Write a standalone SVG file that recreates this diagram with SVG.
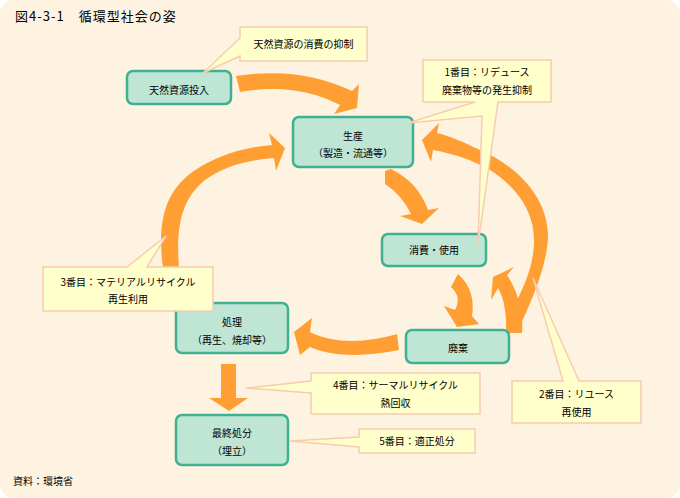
<svg xmlns="http://www.w3.org/2000/svg" width="680" height="498" viewBox="0 0 680 498">
<style>
.bg{fill:#FEF3E1}
.arr{fill:#FF9F33}
.node{fill:#BFE5D5;stroke:#40B093;stroke-width:2.5}
.call{fill:#FFFFCC;stroke:#F8CCB0;stroke-width:1.5;stroke-linejoin:miter}
text{font-family:"Noto Sans CJK JP","Noto Sans CJK SC",sans-serif;font-size:10px;fill:#000}
.c{text-anchor:middle}
.title{font-size:13px;letter-spacing:1px}
</style>
<rect width="680" height="498" fill="#FFFFFF"/>
<rect class="bg" x="0" y="0" width="680" height="498" rx="14"/>
<text class="title" x="15" y="21">図4-3-1　循環型社会の姿</text>
<text x="13" y="485">資料：環境省</text>
<g id="connectors">
<path class="arr" d="M236,76 Q300,66 352,91 L359,84 L357,108 L334,114 L340,105 Q296,82 240,92 Z"/>
<path class="arr" d="M385,171 L391,169 Q418,182 428,210 L439,208 L422,224 L400,216 L411,214 Q402,195 385,184 Z"/>
<path class="arr" d="M458,274 Q476,290 472,316 L479,324 L457,327 L444,306 L455,310 Q462,297 451,287 Z"/>
<path class="arr" d="M517,332 C530,305 548,265 548,235 C547,195 515,165 480,150 C465,143 450,136 437,133 L439,123 L422,140 L431,162 L433,150 C455,154 472,160 490,170 C518,188 534,212 534,240 C534,265 525,285 512,310 L508,332 Z"/>
<path class="arr" d="M506,333 C507,315 504,298 498,288 L491,300 L493,277 L514,267 L507,275 C516,288 524,310 522,333 Z"/>
<path class="arr" d="M397,334 C370,342 335,345 310,332 L312,318 L294,332 L300,355 L310,347 C335,358 370,356 399,350 Z"/>
<path class="arr" d="M163,268 C158,230 160,190 200,167 C225,152 250,147 272,145 L269,133 L285,148 L276,171 L274,158 C250,160 225,165 205,180 C180,200 176,230 179,268 Z"/>
<path class="arr" d="M221,364 L236,364 L236,398 L248,398 L229,411 L209,398 L221,398 Z"/>
</g>
<g id="n-input">
<rect class="node" x="127" y="71" width="104" height="33" rx="6"/>
<text class="c" x="179" y="93.5">天然資源投入</text>
</g>
<g id="n-production">
<rect class="node" x="293" y="117" width="120" height="50" rx="6"/>
<text class="c" x="353" y="139.5">生産</text>
<text class="c" x="353" y="156.5">（製造・流通等）</text>
</g>
<g id="n-consumption">
<rect class="node" x="382" y="234" width="104" height="32" rx="6"/>
<text class="c" x="434" y="253.5">消費・使用</text>
</g>
<g id="n-disposal">
<rect class="node" x="406" y="330" width="103" height="33" rx="6"/>
<text class="c" x="458" y="351.5">廃棄</text>
</g>
<g id="n-treatment">
<rect class="node" x="176" y="303" width="112" height="50" rx="6"/>
<text class="c" x="232" y="325.5">処理</text>
<text class="c" x="232" y="343.5">（再生、焼却等）</text>
</g>
<g id="n-final">
<rect class="node" x="176" y="415" width="112" height="50" rx="6"/>
<text class="c" x="232" y="436.5">最終処分</text>
<text class="c" x="232" y="454.5">（埋立）</text>
</g>
<g id="c-restrain">
<path class="call" d="M240,27 H367 V61 H240 V56 L203,73 L240,38 Z"/>
<text class="c" x="303.5" y="47.5">天然資源の消費の抑制</text>
</g>
<g id="c-reduce">
<path class="call" d="M423,60 H551 V102 H498 L478,245 L482,116 L408,123 L475,102 H423 Z"/>
<text class="c" x="487" y="75.5">1番目：リデュース</text>
<text class="c" x="487" y="93.5">廃棄物等の発生抑制</text>
</g>
<g id="c-material">
<path class="call" d="M43,267 H127 L166,236 L147,267 H213 V311 H43 Z"/>
<text class="c" x="128" y="285.5">3番目：マテリアルリサイクル</text>
<text class="c" x="128" y="302.5">再生利用</text>
</g>
<g id="c-reuse">
<path class="call" d="M512,381 H563 L533,278 L579,381 H641 V423 H512 Z"/>
<text class="c" x="576.5" y="397.5">2番目：リユース</text>
<text class="c" x="576.5" y="415.5">再使用</text>
</g>
<g id="c-thermal">
<path class="call" d="M311,373 H480 V414 H311 V393 L246,388 L311,381 Z"/>
<text class="c" x="395.5" y="388.5">4番目：サーマルリサイクル</text>
<text class="c" x="395.5" y="406.5">熱回収</text>
</g>
<g id="c-proper">
<path class="call" d="M359,429 H475 V453 H359 V447 L290,441 L359,437 Z"/>
<text class="c" x="417" y="444.5">5番目：適正処分</text>
</g>
</svg>
